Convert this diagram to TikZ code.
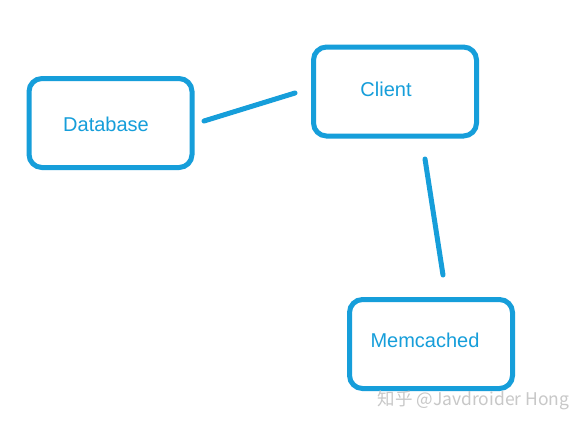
\documentclass[tikz,border=0pt]{standalone}
\usepackage{fontspec}
\setmainfont{Liberation Sans}
\newfontfamily\cjkfont{Noto Sans CJK SC}
\definecolor{sketchblue}{RGB}{22,158,218}
\definecolor{markgray}{RGB}{200,200,200}
\tikzset{
  sbox/.style={draw=sketchblue, line width=5pt, rounded corners=13pt,
    minimum width=163pt, minimum height=89pt, inner sep=0pt},
  slabel/.style={text=sketchblue, font=\fontsize{20}{23}\selectfont},
  sline/.style={draw=sketchblue, line width=5pt, line cap=round}
}
\begin{document}
\begin{tikzpicture}[x=1pt,y=-1pt]
			\useasboundingbox[fill=white] (0,0) rectangle (585,426);
			\node[sbox] (database) at (110.5,123) {}; % Database box
			\node[sbox] (client) at (395,91.5) {}; % Client box
			\node[sbox] (memcached) at (431,344) {}; % Memcached box
			\node[slabel] (dblabel) at (106,124) {Database};
			\node[slabel] (clientlabel) at (386,89) {Client};
			\node[slabel] (memlabel) at (425,340) {Memcached};
			% loose line ends
			\coordinate (dbend) at (204,121);
			\coordinate (clientwest) at (295,93);
			\coordinate (clientsouth) at (425,159);
			\coordinate (memnorth) at (443,275);
			\draw[sline] (dbend) -- (clientwest);
			\draw[sline] (clientsouth) -- (memnorth);
			% watermark
			\node[text=markgray, font=\cjkfont\fontsize{17.5}{20}\selectfont, anchor=west] (mark) at (374,400) {知乎 @Javdroider Hong};
		\end{tikzpicture}
\end{document}
